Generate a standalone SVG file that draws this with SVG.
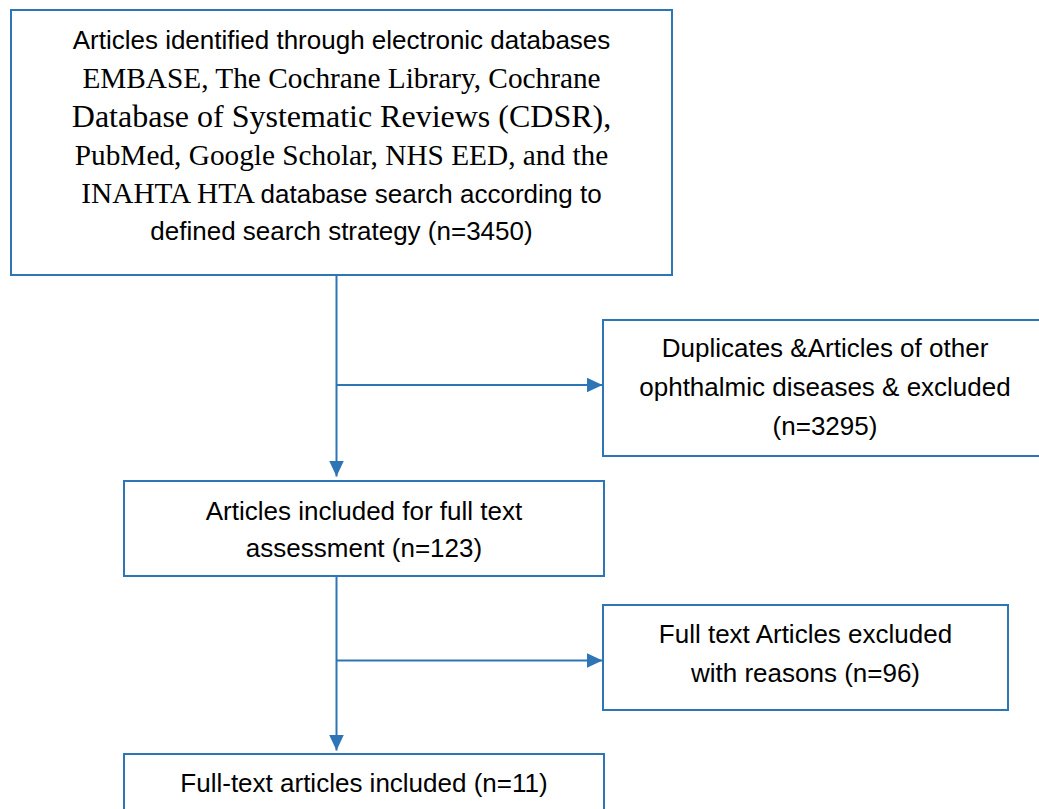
<svg xmlns="http://www.w3.org/2000/svg" width="1039" height="809" viewBox="0 0 1039 809">
<style>
.box{fill:#fff;stroke:#2E75B6;stroke-width:2}
.con{fill:none;stroke:#2E75B6;stroke-width:2}
.s{font-family:"Liberation Sans",Arial,sans-serif;font-size:26px;fill:#000;text-anchor:middle}
.t{font-family:"Liberation Serif","Times New Roman",serif;font-size:29.3px}
.tl{font-family:"Liberation Serif","Times New Roman",serif;font-size:32px}
</style>
<defs>
<marker id="ah" markerUnits="userSpaceOnUse" markerWidth="16" markerHeight="15" refX="16" refY="7.5" orient="auto">
<path d="M0,0 L16,7.5 L0,15 z" fill="#2E75B6"/>
</marker>
</defs>
<rect width="1039" height="809" fill="#fff"/>
<g id="connectors">
<path class="con" d="M336.5,275.5 V476.5" marker-end="url(#ah)"/>
<path class="con" d="M336.5,385 H602.5" marker-end="url(#ah)"/>
<path class="con" d="M336.5,575.5 V750.5" marker-end="url(#ah)"/>
<path class="con" d="M336.5,660.5 H602.5" marker-end="url(#ah)"/>
</g>
<g id="identified">
<rect class="box" x="11" y="10" width="661" height="265"/>
<text class="s" x="341.5" y="49">Articles identified through electronic databases</text>
<text class="s t" x="341.5" y="88">EMBASE, The Cochrane Library, Cochrane</text>
<text class="s tl" x="341.5" y="127">Database of Systematic Reviews (CDSR),</text>
<text class="s t" x="341.5" y="165">PubMed, Google Scholar, NHS EED, and the</text>
<text class="s" x="341.5" y="203"><tspan class="t">INAHTA HTA </tspan>database search according to</text>
<text class="s" x="341.5" y="240">defined search strategy (n=3450)</text>
</g>
<g id="duplicates">
<rect class="box" x="603" y="320" width="446" height="136"/>
<text class="s" x="825" y="357">Duplicates &amp;Articles of other</text>
<text class="s" x="825" y="396">ophthalmic diseases &amp; excluded</text>
<text class="s" x="825" y="435">(n=3295)</text>
</g>
<g id="fulltext">
<rect class="box" x="124" y="481" width="480" height="95"/>
<text class="s" x="364" y="520">Articles included for full text</text>
<text class="s" x="364" y="557">assessment (n=123)</text>
</g>
<g id="excluded">
<rect class="box" x="603" y="605" width="405" height="105"/>
<text class="s" x="805.5" y="643">Full text Articles excluded</text>
<text class="s" x="805.5" y="682">with reasons (n=96)</text>
</g>
<g id="included">
<rect class="box" x="124" y="754" width="480" height="80"/>
<text class="s" x="364" y="792">Full-text articles included (n=11)</text>
</g>
</svg>
